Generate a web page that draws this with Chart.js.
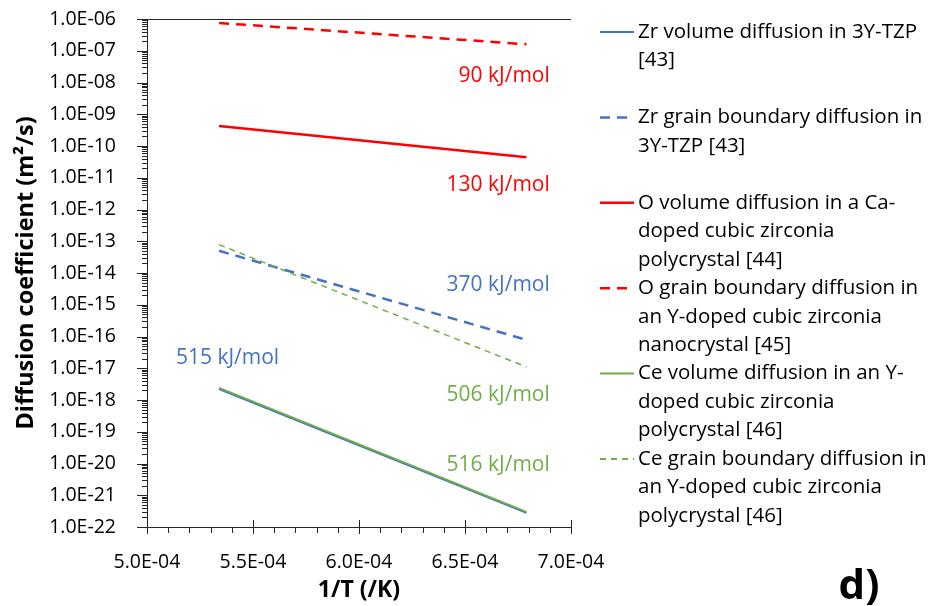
<!DOCTYPE html>
<html lang="en">
<head>
<meta charset="UTF-8">
<title>diffusion d)</title>
<script src="https://cdn.jsdelivr.net/npm/chart.js@4"></script>
<style>
	body{margin:0;background:#fff;}
	#wrap{position:relative;width:933px;height:606px;}
</style>
</head>
<body>
<div id="wrap"><canvas id="c" width="933" height="606"></canvas></div>
<script>
// 1/T (K^-1) at the two ends of every line
var invT = [5.34e-4, 6.79e-4];

// diffusion coefficients (m2/s) at those ends
var zrVolume = [2.2e-18, 2.8e-22];
var zrBoundary = [5.0e-14, 7.8e-17];
var oVolume = [4.3e-10, 4.4e-11];
var oBoundary = [7.5e-7, 1.6e-7];
var ceVolume = [2.4e-18, 3.0e-22];
var ceBoundary = [7.8e-14, 1.1e-17];

var seriesNames = [
	["Zr volume diffusion in 3Y-TZP", "[43]"],
	["Zr grain boundary diffusion in", "3Y-TZP [43]"],
	["O volume diffusion in a Ca-", "doped cubic zirconia", "polycrystal [44]"],
	["O grain boundary diffusion in", "an Y-doped cubic zirconia", "nanocrystal [45]"],
	["Ce volume diffusion in an Y-", "doped cubic zirconia", "polycrystal [46]"],
	["Ce grain boundary diffusion in", "an Y-doped cubic zirconia", "polycrystal [46]"]
];

var xTicks = [5.0e-4, 5.5e-4, 6.0e-4, 6.5e-4, 7.0e-4];
var xTickLabels = ["5.0E-04", "5.5E-04", "6.0E-04", "6.5E-04", "7.0E-04"];
var yTicks = [1e-22,1e-21,1e-20,1e-19,1e-18,1e-17,1e-16,1e-15,1e-14,1e-13,1e-12,1e-11,1e-10,1e-9,1e-8,1e-7,1e-6];

// activation energy notes, anchored at data coordinates
var energyText = ["90 kJ/mol", "130 kJ/mol", "370 kJ/mol", "515 kJ/mol", "506 kJ/mol", "516 kJ/mol"];
var energyX = [6.90e-4, 6.90e-4, 6.90e-4, 5.38e-4, 6.90e-4, 6.90e-4];
var energyY = [1.6e-8, 5.9e-12, 4.2e-15, 2.1e-17, 1.4e-18, 8.9e-21];

var BLUE = "#4472C4", RED = "#FF0000", GREEN = "#70AD47";
var energyColor = [RED, RED, BLUE, BLUE, GREEN, GREEN];
var FONT = "'Open Sans'";

function pts(ys) {
	return ys.map(function(y, i) { return {x: invT[i], y: y}; });
}
function sci(v) {
	var e = Math.round(Math.log10(v));
	var m = v / Math.pow(10, e);
	var s = e < 0 ? "-" : "+";
	var a = Math.abs(e);
	return m.toFixed(1) + "E" + s + (a < 10 ? "0" + a : a);
}

var datasets = [
	{label: seriesNames[0].join(" "), data: pts(zrVolume), borderColor: BLUE, borderWidth: 2, borderDash: [], order: 2},
	{label: seriesNames[1].join(" "), data: pts(zrBoundary), borderColor: BLUE, borderWidth: 2.5, borderDash: [10, 7], order: 1},
	{label: seriesNames[2].join(" "), data: pts(oVolume), borderColor: RED, borderWidth: 2.5, borderDash: [], order: 1},
	{label: seriesNames[3].join(" "), data: pts(oBoundary), borderColor: RED, borderWidth: 2.5, borderDash: [10, 7], order: 1},
	{label: seriesNames[4].join(" "), data: pts(ceVolume), borderColor: GREEN, borderWidth: 2, borderDash: [], order: 1},
	{label: seriesNames[5].join(" "), data: pts(ceBoundary), borderColor: GREEN, borderWidth: 1.5, borderDash: [6, 5], order: 0}
];
datasets.forEach(function(d) {
	d.pointRadius = 0;
	d.fill = false;
	d.tension = 0;
	d.borderCapStyle = "butt";
});

var extras = {
	id: "extras",
	afterDraw: function(chart) {
		var ctx = chart.ctx, a = chart.chartArea;
		var xs = chart.scales.x, ys = chart.scales.y;
		ctx.save();
		ctx.strokeStyle = "#262626";
		ctx.lineWidth = 1;
		// top border
		ctx.beginPath();
		ctx.moveTo(a.left, a.top + 0.5);
		ctx.lineTo(a.right, a.top + 0.5);
		ctx.stroke();
		// y ticks: major and minor
		ctx.beginPath();
		for (var e = -22; e <= -6; e++) {
			var yp = Math.round(ys.getPixelForValue(Math.pow(10, e))) + 0.5;
			ctx.moveTo(a.left - 10, yp); ctx.lineTo(a.left, yp);
			if (e < -6) {
				for (var k = 2; k <= 9; k++) {
					var ym = Math.round(ys.getPixelForValue(k * Math.pow(10, e))) + 0.5;
					ctx.moveTo(a.left - 5, ym); ctx.lineTo(a.left, ym);
				}
			}
		}
		// x ticks: major crossing, minor outside
		for (var i = 0; i <= 20; i++) {
			var xp = Math.round(xs.getPixelForValue(5e-4 + i * 1e-5)) + 0.5;
			if (i % 5 === 0) { ctx.moveTo(xp, a.bottom - 7); ctx.lineTo(xp, a.bottom + 7); }
			else { ctx.moveTo(xp, a.bottom); ctx.lineTo(xp, a.bottom + 6); }
		}
		ctx.stroke();

		// activation energy notes
		ctx.font = "21px " + FONT;
		ctx.textBaseline = "middle";
		energyText.forEach(function(t, j) {
			ctx.fillStyle = energyColor[j];
			ctx.textAlign = j === 3 ? "center" : "right";
			ctx.fillText(t, xs.getPixelForValue(energyX[j]), ys.getPixelForValue(energyY[j]));
		});

		// legend
		ctx.textAlign = "left";
		ctx.font = "20.5px " + FONT;
		chart.data.datasets.forEach(function(d, j) {
			var top = 32 + j * 85.4;
			ctx.strokeStyle = d.borderColor;
			ctx.lineWidth = Math.max(d.borderWidth, 2);
			ctx.setLineDash(d.borderDash);
			ctx.beginPath();
			ctx.moveTo(600, top); ctx.lineTo(634, top);
			ctx.stroke();
			ctx.setLineDash([]);
			ctx.fillStyle = "#000";
			seriesNames[j].forEach(function(line, n) {
				ctx.fillText(line, 638, top + n * 28.5);
			});
		});

		// panel letter
		ctx.font = "bold 42px " + FONT;
		ctx.textAlign = "center";
		ctx.textBaseline = "alphabetic";
		ctx.fillText("d)", 859, 599);
		ctx.restore();
	}
};

new Chart(document.getElementById("c"), {
	type: "line",
	data: {datasets: datasets},
	plugins: [extras],
	options: {
		responsive: false,
		animation: false,
		layout: {padding: {top: 19, right: 362, left: 0, bottom: 0}},
		plugins: {legend: {display: false}, tooltip: {enabled: false}},
		scales: {
			x: {
				type: "linear",
				min: 5e-4,
				max: 7e-4,
				afterFit: function(s) { s.height = 79; s.paddingLeft = 0; s.paddingRight = 0; },
				afterBuildTicks: function(s) { s.ticks = xTicks.map(function(v) { return {value: v}; }); },
				grid: {display: false},
				border: {display: true, color: "#262626", width: 1},
				ticks: {
					padding: 16,
					color: "#000",
					font: {family: FONT, size: 19.5},
					maxRotation: 0,
					callback: function(v, i) { return xTickLabels[i]; }
				},
				title: {display: true, text: "1/T (/K)", color: "#000", font: {family: FONT, size: 23, weight: "bold"}, padding: {top: 0, bottom: 2}}
			},
			y: {
				type: "logarithmic",
				min: 1e-22,
				max: 1e-6,
				afterFit: function(s) { s.width = 147; s.paddingTop = 0; s.paddingBottom = 0; },
				afterBuildTicks: function(s) { s.ticks = yTicks.map(function(v) { return {value: v}; }); },
				grid: {display: false},
				border: {display: true, color: "#262626", width: 1},
				ticks: {
					padding: 23,
					color: "#000",
					autoSkip: false,
					font: {family: FONT, size: 19.5},
					callback: function(v) { return sci(v); }
				},
				title: {display: true, text: "Diffusion coefficient (m²/s)", color: "#000", font: {family: FONT, size: 23.5, weight: "bold"}, padding: {top: 12, bottom: 0}}
			}
		}
	}
});
</script>
</body>
</html>
